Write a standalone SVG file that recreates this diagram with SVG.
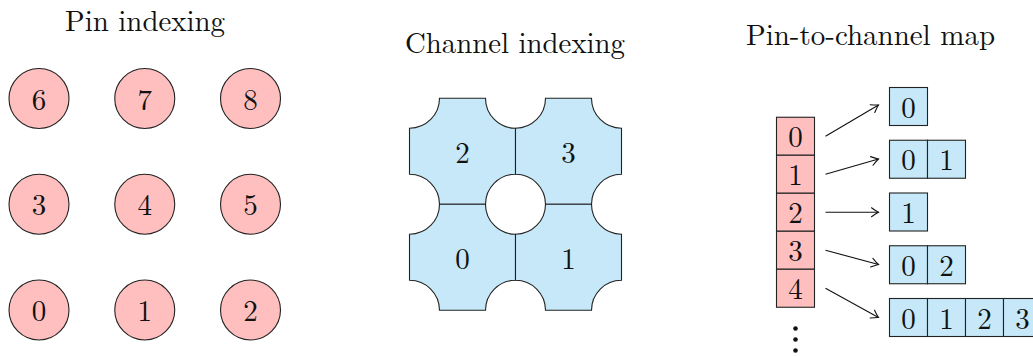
<svg xmlns="http://www.w3.org/2000/svg" width="1033" height="356" viewBox="0 0 1033 356">
<style>
.pin{fill:#ffbfbf;stroke:#222;stroke-width:1.1}
.ch{fill:#c6e8f8;stroke:#222;stroke-width:1.1}
.cell{stroke:#222;stroke-width:1.1}
.pk{fill:#ffbfbf}
.bl{fill:#c6e8f8}
.arr{fill:none;stroke:#111;stroke-width:1.1;marker-end:url(#ah)}
</style>
<defs>
<marker id="ah" markerUnits="userSpaceOnUse" markerWidth="14" markerHeight="14" viewBox="-10 -7 12 14" refX="0" refY="0" orient="auto">
<path d="M -7 -4.5 Q -2.5 -1.2 0 0 Q -2.5 1.2 -7 4.5" fill="none" stroke="#111" stroke-width="1.1" stroke-linecap="round"/>
</marker>
</defs>
<rect width="1033" height="356" fill="#fff"/>
<g font-family="Latin Modern Roman, Liberation Serif, serif" font-size="29" fill="#111" text-anchor="middle">

<g id="titles">
<text x="145" y="30.5" textLength="160" lengthAdjust="spacingAndGlyphs">Pin indexing</text>
<text x="515" y="53" textLength="220" lengthAdjust="spacingAndGlyphs">Channel indexing</text>
<text x="870.5" y="45" textLength="249" lengthAdjust="spacingAndGlyphs">Pin-to-channel map</text>
</g>

<g id="pins">
<g id="pin6"><circle class="pin" cx="39" cy="98.5" r="30"/><text x="39" y="109.5">6</text></g>
<g id="pin7"><circle class="pin" cx="144.75" cy="98.5" r="30"/><text x="144.75" y="109.5">7</text></g>
<g id="pin8"><circle class="pin" cx="250.5" cy="98.5" r="30"/><text x="250.5" y="109.5">8</text></g>
<g id="pin3"><circle class="pin" cx="39" cy="204.25" r="30"/><text x="39" y="215.25">3</text></g>
<g id="pin4"><circle class="pin" cx="144.75" cy="204.25" r="30"/><text x="144.75" y="215.25">4</text></g>
<g id="pin5"><circle class="pin" cx="250.5" cy="204.25" r="30"/><text x="250.5" y="215.25">5</text></g>
<g id="pin0"><circle class="pin" cx="39" cy="310" r="30"/><text x="39" y="321">0</text></g>
<g id="pin1"><circle class="pin" cx="144.75" cy="310" r="30"/><text x="144.75" y="321">1</text></g>
<g id="pin2"><circle class="pin" cx="250.5" cy="310" r="30"/><text x="250.5" y="321">2</text></g>
</g>

<g id="channels">
<g id="ch2"><path class="ch" d="M 439.5,98.25 L 485.5,98.25 A 30 30 0 0 0 515.5,128.25 L 515.5,174.25 A 30 30 0 0 0 485.5,204.25 L 439.5,204.25 A 30 30 0 0 0 409.5,174.25 L 409.5,128.25 A 30 30 0 0 0 439.5,98.25 Z"/><text x="462.5" y="162.5">2</text></g>
<g id="ch3"><path class="ch" d="M 545.5,98.25 L 591.5,98.25 A 30 30 0 0 0 621.5,128.25 L 621.5,174.25 A 30 30 0 0 0 591.5,204.25 L 545.5,204.25 A 30 30 0 0 0 515.5,174.25 L 515.5,128.25 A 30 30 0 0 0 545.5,98.25 Z"/><text x="568.5" y="162.5">3</text></g>
<g id="ch0"><path class="ch" d="M 439.5,204.25 L 485.5,204.25 A 30 30 0 0 0 515.5,234.25 L 515.5,280.25 A 30 30 0 0 0 485.5,310.25 L 439.5,310.25 A 30 30 0 0 0 409.5,280.25 L 409.5,234.25 A 30 30 0 0 0 439.5,204.25 Z"/><text x="462.5" y="268.5">0</text></g>
<g id="ch1"><path class="ch" d="M 545.5,204.25 L 591.5,204.25 A 30 30 0 0 0 621.5,234.25 L 621.5,280.25 A 30 30 0 0 0 591.5,310.25 L 545.5,310.25 A 30 30 0 0 0 515.5,280.25 L 515.5,234.25 A 30 30 0 0 0 545.5,204.25 Z"/><text x="568.5" y="268.5">1</text></g>
</g>

<g id="pinlist">
<g id="p0"><rect class="cell pk" x="776.5" y="117.25" width="38" height="38"/><text x="795.5" y="147.25">0</text></g>
<g id="p1"><rect class="cell pk" x="776.5" y="155.25" width="38" height="38"/><text x="795.5" y="185.25">1</text></g>
<g id="p2"><rect class="cell pk" x="776.5" y="193.25" width="38" height="38"/><text x="795.5" y="223.25">2</text></g>
<g id="p3"><rect class="cell pk" x="776.5" y="231.25" width="38" height="38"/><text x="795.5" y="261.25">3</text></g>
<g id="p4"><rect class="cell pk" x="776.5" y="269.25" width="38" height="38"/><text x="795.5" y="299.25">4</text></g>
<g id="dots" fill="#111"><circle cx="795.5" cy="328.5" r="2.3"/><circle cx="795.5" cy="339.5" r="2.3"/><circle cx="795.5" cy="350.5" r="2.3"/></g>
</g>

<g id="maps">
<g id="m0"><rect class="cell bl" x="889.5" y="87.5" width="38" height="38"/><text x="908.5" y="117.5">0</text></g>
<g id="m1"><rect class="cell bl" x="889.5" y="140.25" width="38" height="38"/><text x="908.5" y="170.25">0</text><rect class="cell bl" x="927.5" y="140.25" width="38" height="38"/><text x="946.5" y="170.25">1</text></g>
<g id="m2"><rect class="cell bl" x="889.5" y="193" width="38" height="38"/><text x="908.5" y="223">1</text></g>
<g id="m3"><rect class="cell bl" x="889.5" y="245.75" width="38" height="38"/><text x="908.5" y="275.75">0</text><rect class="cell bl" x="927.5" y="245.75" width="38" height="38"/><text x="946.5" y="275.75">2</text></g>
<g id="m4"><rect class="cell bl" x="889.5" y="298.5" width="38" height="38"/><text x="908.5" y="328.5">0</text><rect class="cell bl" x="927.5" y="298.5" width="38" height="38"/><text x="946.5" y="328.5">1</text><rect class="cell bl" x="965.5" y="298.5" width="38" height="38"/><text x="984.5" y="328.5">2</text><rect class="cell bl" x="1003.5" y="298.5" width="38" height="38"/><text x="1022.5" y="328.5">3</text></g>
</g>
</g>

<g id="connectors">
<line class="arr" x1="825.5" y1="136.25" x2="878.5" y2="105"/>
<line class="arr" x1="825.5" y1="174.25" x2="878.5" y2="159"/>
<line class="arr" x1="825.5" y1="212.25" x2="878.5" y2="212.25"/>
<line class="arr" x1="825.5" y1="250.25" x2="878.5" y2="264.5"/>
<line class="arr" x1="825.5" y1="288.25" x2="878.5" y2="317.5"/>
</g>
</svg>
